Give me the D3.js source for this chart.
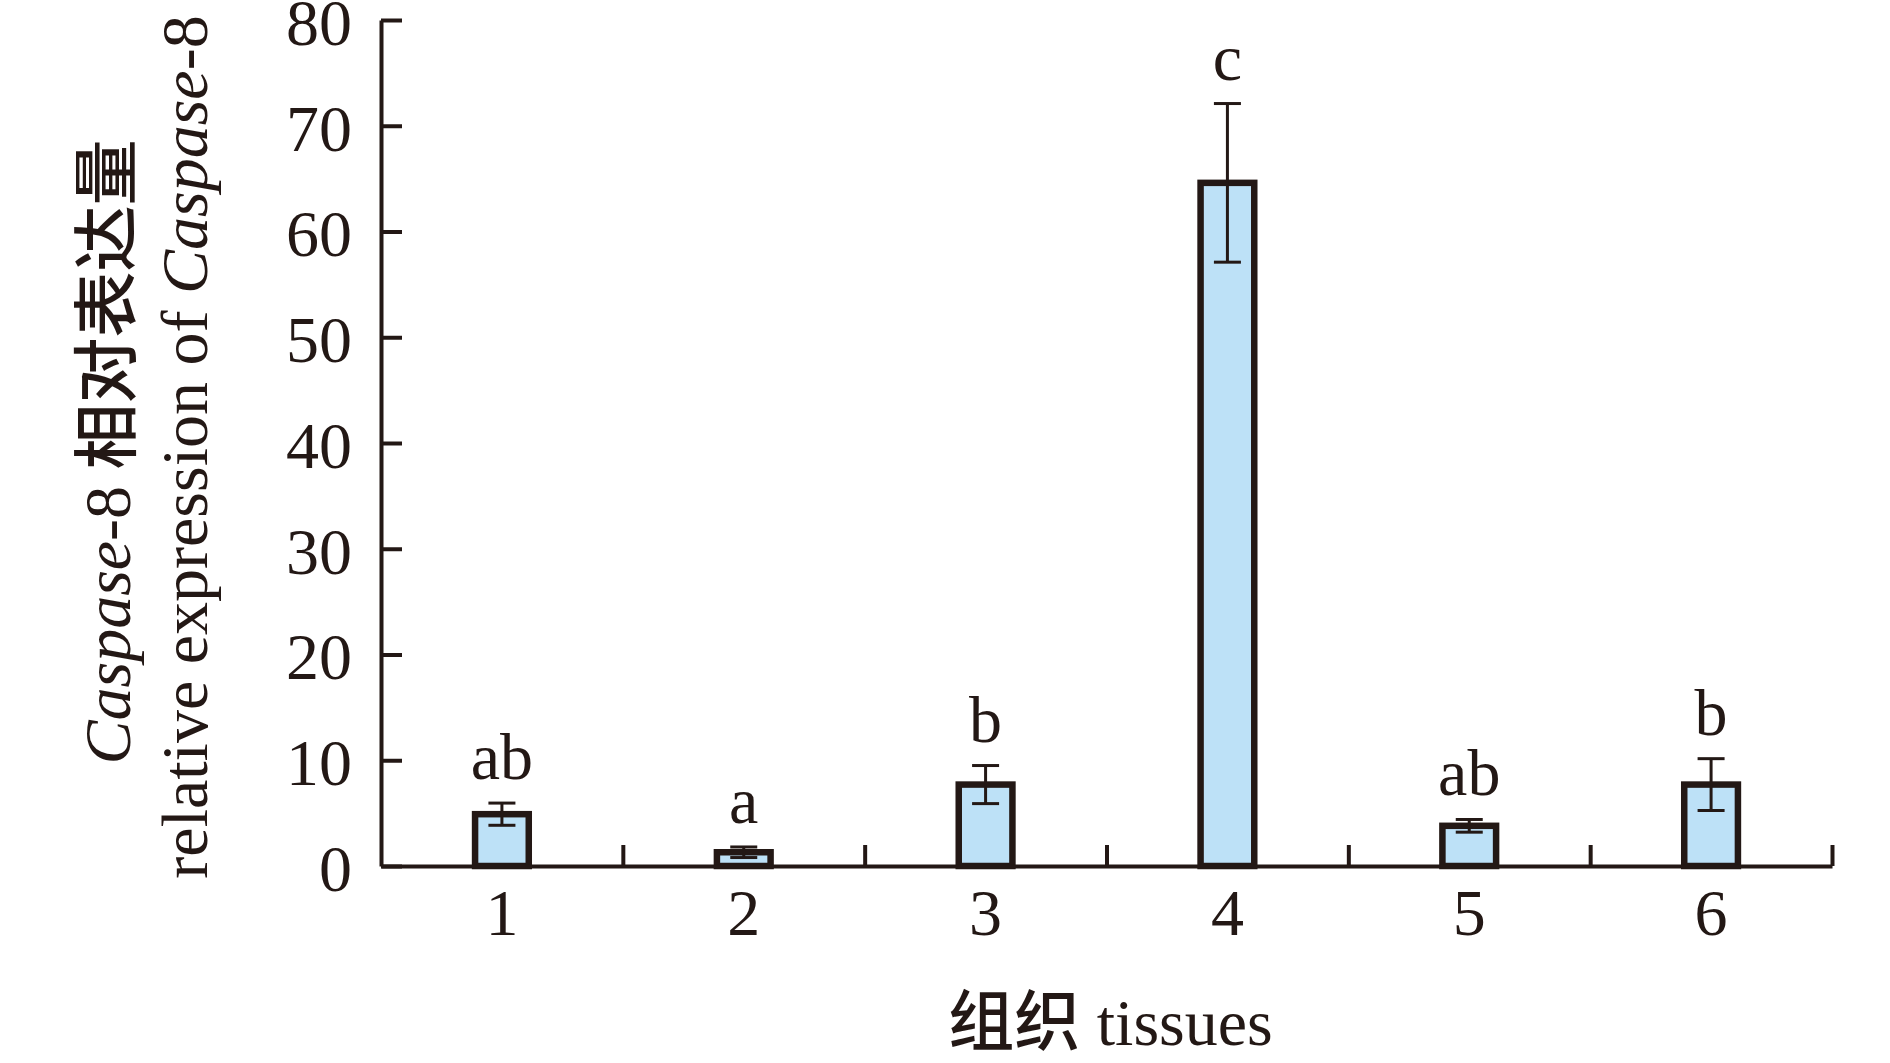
<!DOCTYPE html>
<html>
<head>
<meta charset="utf-8">
<script src="https://cdn.jsdelivr.net/npm/d3@7"></script>
<style>
  html, body { margin: 0; padding: 0; background: #fff; }
  svg { display: block; }
</style>
</head>
<body>
<svg id="chart" width="1890" height="1063"></svg>
<script>
const categories = ["1", "2", "3", "4", "5", "6"];
const values = [4.9, 1.3, 7.7, 64.6, 3.8, 7.7];
const errors = [1.05, 0.5, 1.8, 7.5, 0.6, 2.45];
const letters = ["ab", "a", "b", "c", "ab", "b"];
const yTicks = [0, 10, 20, 30, 40, 50, 60, 70, 80];

(function () {
const ink = "#231815";
const fill = "#bde1f7";
const serif = "'Liberation Serif', 'Times New Roman', serif";
const cjk = "'Noto Sans CJK SC', sans-serif";
const fs = 66;

const mLeft = 381, mRight = 1832, mTop = 20, mBottom = 866;
const svg = d3.select("#chart");

const x = d3.scaleBand().domain(categories).range([mLeft, mRight]).padding(0);
const xEdge = d3.scaleLinear().domain([0, categories.length]).range([mLeft, mRight]);
const y = d3.scaleLinear().domain([0, 80]).range([mBottom, mTop]);

// Bars
const bw = x.bandwidth() * 0.222;
svg.append("g").selectAll("rect").data(values).join("rect")
  .attr("x", (d, i) => x(categories[i]) + x.bandwidth() / 2 - bw / 2)
  .attr("y", d => y(d))
  .attr("width", bw)
  .attr("height", d => y(0) - y(d))
  .attr("fill", fill)
  .attr("stroke", ink)
  .attr("stroke-width", 6.5);

// Error bars
const cap = 27;
const eg = svg.append("g").attr("stroke", ink).attr("stroke-width", 3);
values.forEach((v, i) => {
  const cx = x(categories[i]) + x.bandwidth() / 2;
  const lo = Math.max(0, v - errors[i]), hi = v + errors[i];
  eg.append("line").attr("x1", cx).attr("x2", cx).attr("y1", y(lo)).attr("y2", y(hi));
  eg.append("line").attr("x1", cx - cap / 2).attr("x2", cx + cap / 2).attr("y1", y(hi)).attr("y2", y(hi));
  eg.append("line").attr("x1", cx - cap / 2).attr("x2", cx + cap / 2).attr("y1", y(lo)).attr("y2", y(lo));
});

// Significance letters
svg.append("g").selectAll("text").data(letters).join("text")
  .attr("x", (d, i) => x(categories[i]) + x.bandwidth() / 2)
  .attr("y", (d, i) => y(values[i] + errors[i]) - 24)
  .attr("text-anchor", "middle")
  .attr("font-family", serif)
  .attr("font-size", fs)
  .attr("fill", ink)
  .text(d => d);

// Y axis
const yAxis = svg.append("g")
  .attr("transform", `translate(${mLeft},0)`)
  .call(d3.axisLeft(y).tickValues(yTicks).tickSizeInner(-21).tickSizeOuter(0).tickPadding(29));
yAxis.select(".domain").attr("stroke", ink).attr("stroke-width", 4);
yAxis.selectAll(".tick line").attr("stroke", ink).attr("stroke-width", 4);
yAxis.selectAll(".tick text")
  .attr("font-family", serif).attr("font-size", fs).attr("fill", ink).attr("dy", "0.37em");

// X axis: boundary ticks
const xTickAxis = svg.append("g")
  .attr("transform", `translate(0,${mBottom})`)
  .call(d3.axisBottom(xEdge).tickValues(d3.range(1, categories.length + 1)).tickSizeInner(-21).tickSizeOuter(0).tickFormat(""));
xTickAxis.select(".domain").attr("stroke", ink).attr("stroke-width", 4);
xTickAxis.selectAll(".tick line").attr("stroke", ink).attr("stroke-width", 4);

// X axis: category labels
const xLab = svg.append("g")
  .attr("transform", `translate(0,${mBottom})`)
  .call(d3.axisBottom(x).tickSize(0).tickPadding(22));
xLab.select(".domain").remove();
xLab.selectAll(".tick text")
  .attr("font-family", serif).attr("font-size", fs).attr("fill", ink).attr("dy", "0.71em");

// X title
const xt = svg.append("text")
  .attr("x", (mLeft + mRight) / 2 + 4)
  .attr("y", 1045)
  .attr("text-anchor", "middle")
  .attr("font-size", fs)
  .attr("fill", ink);
xt.append("tspan").attr("font-family", cjk).attr("font-weight", 500).text("组织");
xt.append("tspan").attr("font-family", serif).text(" tissues");

// Y title (two lines)
const cy = 452;
const t1 = svg.append("text")
  .attr("transform", `translate(130,${cy}) rotate(-90)`)
  .attr("text-anchor", "middle")
  .attr("font-size", fs)
  .attr("fill", ink);
t1.append("tspan").attr("font-family", serif).attr("font-style", "italic").text("Caspase");
t1.append("tspan").attr("font-family", serif).text("-8 ");
t1.append("tspan").attr("font-family", cjk).attr("font-weight", 500).text("相对表达量");

const t2 = svg.append("text")
  .attr("transform", `translate(207,${cy - 5}) rotate(-90)`)
  .attr("text-anchor", "middle")
  .attr("font-size", fs)
  .attr("fill", ink);
t2.append("tspan").attr("font-family", serif).text("relative expression of ");
t2.append("tspan").attr("font-family", serif).attr("font-style", "italic").text("Caspase");
t2.append("tspan").attr("font-family", serif).text("-8");
})();
</script>
</body>
</html>
